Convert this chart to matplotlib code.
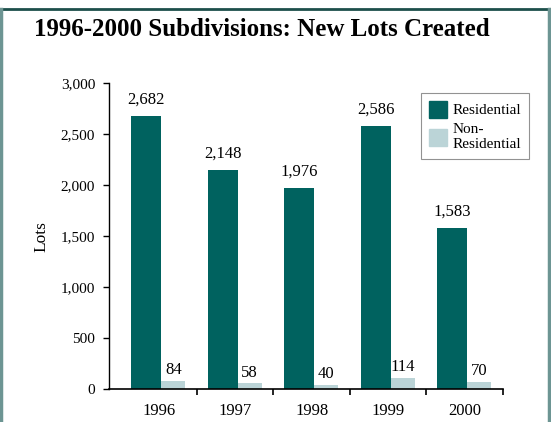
import matplotlib
matplotlib.use("Agg")
import matplotlib.pyplot as plt
from matplotlib.lines import Line2D
from matplotlib.patches import Patch
import numpy as np

years = ["1996", "1997", "1998", "1999", "2000"]
residential = [2682, 2148, 1976, 2586, 1583]
non_residential = [84, 58, 40, 114, 70]
yticks = [0, 500, 1000, 1500, 2000, 2500, 3000]

RES = "#00625f"
NONRES = "#bbd4d7"
plt.rcParams.update({"font.family": ["Liberation Serif", "DejaVu Serif"]})

fig = plt.figure(figsize=(5.51, 4.22), dpi=100)
ax = fig.add_axes([0.1978, 0.0775, 0.9129 - 0.1978, 0.8026 - 0.0775])

x = np.arange(len(years))
ax.bar(x - 0.36, residential, 0.39, align="edge", color=RES, label="Residential")
ax.bar(x + 0.03, non_residential, 0.315, align="edge", color=NONRES, label="Non-\nResidential")

for i, (r, n) in enumerate(zip(residential, non_residential)):
    ax.annotate(f"{r:,}", (i - 0.165, r), xytext=(0, 6), textcoords="offset points",
                ha="center", va="bottom", fontsize=12)
    ax.annotate(f"{n:,}", (i + 0.19, n), xytext=(0, 2), textcoords="offset points",
                ha="center", va="bottom", fontsize=12)

ax.set_xlim(-0.65, 4.5)
ax.set_ylim(0, 3000)
ax.set_yticks(yticks)
ax.set_yticklabels([f"{v:,}" for v in yticks], fontsize=11)
ax.set_xticks(x)
ax.set_xticklabels(years, fontsize=12)
ax.set_xticks(np.arange(0.5, 5, 1), minor=True)
ax.tick_params(axis="x", which="major", length=0, pad=10)
ax.tick_params(axis="x", which="minor", length=4, width=1.2, direction="out")
ax.tick_params(axis="y", length=4, width=1, direction="out", pad=6)
for s in ("top", "right"):
    ax.spines[s].set_visible(False)
ax.spines["left"].set_linewidth(1)
ax.spines["bottom"].set_linewidth(1.2)
ax.set_ylabel("Lots", fontsize=12.5, labelpad=8)

leg = ax.legend(handles=[Patch(color=RES, label="Residential"),
                         Patch(color=NONRES, label="Non-\nResidential")],
                loc="upper right", bbox_to_anchor=(1.066, 0.968), borderaxespad=0,
                fontsize=11, frameon=True, fancybox=False, edgecolor="#777777",
                handlelength=1.15, handleheight=1.35, handletextpad=0.4,
                borderpad=0.5, labelspacing=0.35)
leg.get_frame().set_linewidth(0.8)

fig.text(0.4755, 0.93, "1996-2000 Subdivisions: New Lots Created", ha="center",
         va="center", fontsize=18, fontweight="bold")

# frame lines
fig.add_artist(Line2D([0, 1], [0.979, 0.979], color="#1d4f4b", lw=2, transform=fig.transFigure))
fig.add_artist(Line2D([0.002, 0.002], [0, 0.979], color="#6d9593", lw=2.5, transform=fig.transFigure))
fig.add_artist(Line2D([0.996, 0.996], [0, 0.979], color="#6d9593", lw=2.5, transform=fig.transFigure))

fig.savefig("out.png", dpi=100)
